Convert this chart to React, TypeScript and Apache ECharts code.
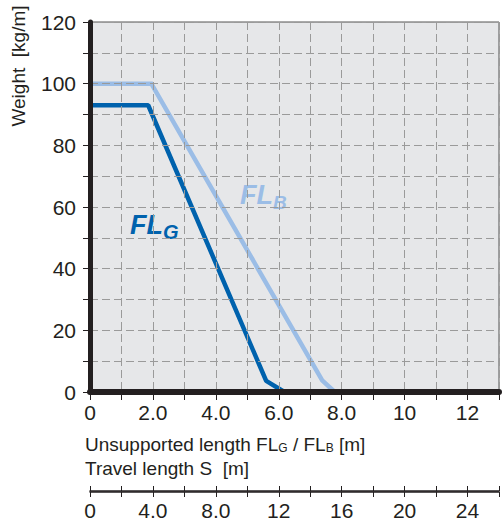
import React, { useEffect, useRef } from 'react';
import * as echarts from 'echarts';

// Unsupported length FL [m] vs weight [kg/m]
const flGLength = [0, 1.85, 5.6, 6.18];
const flGWeight = [93, 93, 3.6, 0];
const flBLength = [0, 1.95, 7.38, 7.78];
const flBWeight = [100, 100, 3.8, 0];

const xMax = 13; // unsupported length axis max [m]
const sMax = 26; // travel length axis max [m]
const yMax = 120;

const TEXT = '#231f20';
const DARK = '#0062ad';
const LIGHT = '#9bbde6';
const FONT = '"Liberation Sans", Arial, sans-serif';

const fmtFL = (v: number) => (v % 2 !== 0 ? '' : v === 0 ? '0' : v < 10 ? v.toFixed(1) : String(v));
const fmtS = (v: number) => (v % 4 !== 0 ? '' : v === 0 ? '0' : v < 10 ? v.toFixed(1) : String(v));
const fmtY = (v: number) => (v % 20 !== 0 ? '' : String(v));

export default function App() {
  const ref = useRef<HTMLDivElement>(null);
  useEffect(() => {
    if (!ref.current) return;
    const chart = echarts.init(ref.current, undefined, { renderer: 'svg' });
    const dash = { color: '#9a9a9a', type: [8, 4] as any, width: 1 };
    const labelStyle = { fontSize: 21, color: TEXT, fontFamily: FONT };
    chart.setOption({
      animation: false,
      backgroundColor: '#ffffff',
      grid: [
        { left: 90, right: -2, top: 22, bottom: 133, show: true, backgroundColor: '#e6e7e9', borderColor: '#555', borderWidth: 1 },
        { left: 90, right: -2, top: 491, height: 1, show: false },
      ],
      xAxis: [
        {
          gridIndex: 0, type: 'value', min: 0, max: xMax, interval: 1, z: 3,
          axisLine: { show: true, onZero: false, lineStyle: { color: TEXT, width: 6 } },
          axisTick: { show: true, length: 8, lineStyle: { color: TEXT, width: 1 } },
          axisLabel: { ...labelStyle, margin: 10, formatter: fmtFL, showMaxLabel: true },
          splitLine: { show: true, lineStyle: dash },
        },
        {
          gridIndex: 1, type: 'value', min: 0, max: sMax, interval: 2, position: 'bottom',
          axisLine: { show: true, onZero: false, lineStyle: { color: TEXT, width: 1.5 } },
          axisTick: { show: true, length: 5, lineStyle: { color: TEXT, width: 1 } },
          axisLabel: { ...labelStyle, margin: 8, formatter: fmtS },
          splitLine: { show: false },
        },
        {
          gridIndex: 1, type: 'value', min: 0, max: sMax, interval: 2, position: 'top',
          axisLine: { show: true, onZero: false, lineStyle: { color: TEXT, width: 1.5 } },
          axisTick: { show: true, length: 5, lineStyle: { color: TEXT, width: 1 } },
          axisLabel: { show: false },
          splitLine: { show: false },
        },
      ],
      yAxis: [
        {
          gridIndex: 0, type: 'value', min: 0, max: yMax, interval: 10, z: 3,
          axisLine: { show: true, onZero: false, lineStyle: { color: TEXT, width: 5 } },
          axisTick: { show: true, length: 7, lineStyle: { color: TEXT, width: 1 } },
          axisLabel: { ...labelStyle, margin: 14, formatter: fmtY },
          splitLine: { show: true, lineStyle: dash },
        },
        { gridIndex: 1, type: 'value', min: 0, max: 1, show: false },
      ],
      series: [
        {
          name: 'FLB', type: 'line', xAxisIndex: 0, yAxisIndex: 0, symbol: 'none',
          data: flBLength.map((x, i) => [x, flBWeight[i]]),
          lineStyle: { color: LIGHT, width: 4.5, join: 'miter' }, z: 2,
        },
        {
          name: 'FLG', type: 'line', xAxisIndex: 0, yAxisIndex: 0, symbol: 'none',
          data: flGLength.map((x, i) => [x, flGWeight[i]]),
          lineStyle: { color: DARK, width: 4.5 }, z: 2,
        },
        { type: 'line', xAxisIndex: 1, yAxisIndex: 1, data: [], symbol: 'none' },
      ],
      graphic: [
        {
          type: 'text', x: 18, y: 66, rotation: Math.PI / 2,
          style: { text: 'Weight  [kg/m]', font: `19px ${FONT}`, fill: TEXT, align: 'center', verticalAlign: 'middle' },
        },
        {
          type: 'text', x: 85, y: 435,
          style: {
            text: '{t|Unsupported length FL}{s|G}{t| / FL}{s|B}{t| [m]}',
            verticalAlign: 'top', align: 'left',
            rich: {
              t: { fontSize: 19, fontFamily: FONT, fill: TEXT },
              s: { fontSize: 12, fontFamily: FONT, fill: TEXT, verticalAlign: 'bottom' },
            },
          },
        },
        {
          type: 'text', x: 85, y: 459,
          style: { text: 'Travel length S  [m]', font: `19px ${FONT}`, fill: TEXT, verticalAlign: 'top', align: 'left' },
        },
        {
          type: 'text', x: 130, y: 211,
          style: {
            text: '{a|FL}{b|G}', verticalAlign: 'top', align: 'left',
            rich: {
              a: { fontSize: 27, fontFamily: FONT, fontWeight: 'bold', fontStyle: 'italic', fill: DARK, verticalAlign: 'top', lineHeight: 31 },
              b: { fontSize: 20, fontFamily: FONT, fontWeight: 'bold', fontStyle: 'italic', fill: DARK, verticalAlign: 'bottom' },
            },
          },
        },
        {
          type: 'text', x: 240, y: 181,
          style: {
            text: '{a|FL}{b|B}', verticalAlign: 'top', align: 'left',
            rich: {
              a: { fontSize: 27, fontFamily: FONT, fontWeight: 'bold', fontStyle: 'italic', fill: LIGHT, verticalAlign: 'top', lineHeight: 31 },
              b: { fontSize: 19, fontFamily: FONT, fontWeight: 'bold', fontStyle: 'italic', fill: LIGHT, verticalAlign: 'bottom' },
            },
          },
        },
      ],
    });
    return () => chart.dispose();
  }, []);
  return <div ref={ref} style={{ position: 'fixed', left: 0, top: 0, width: 502, height: 525 }} />;
}
